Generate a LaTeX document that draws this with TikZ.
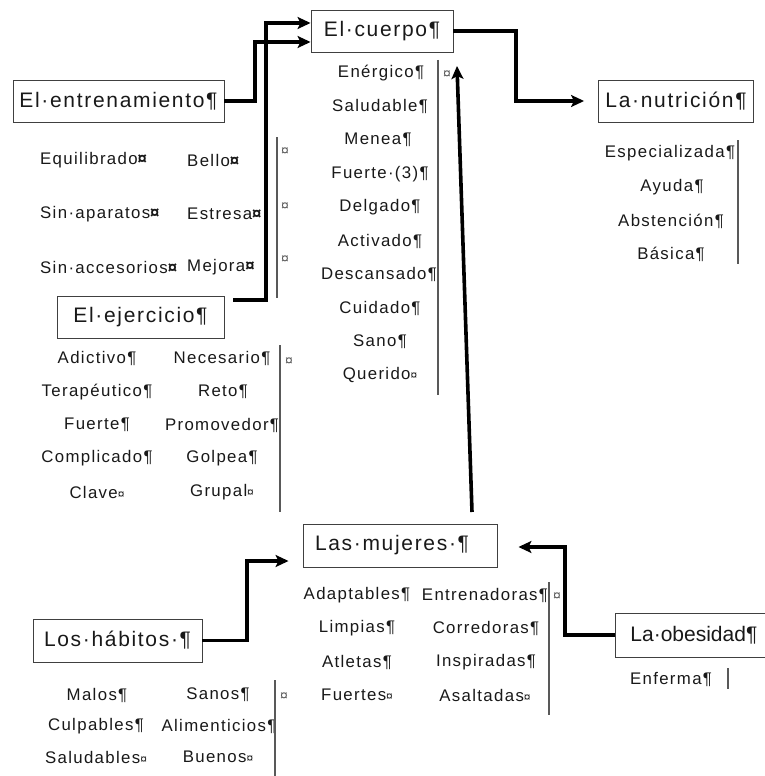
\documentclass[tikz,border=0pt]{standalone}
\usepackage{fontspec}
\setmainfont{Liberation Sans}
\newfontfamily\lsans[LetterSpace=8]{Liberation Sans}
\usetikzlibrary{arrows.meta}
\newcommand\cellmk{{\fontsize{12}{12}\selectfont ¤}}
\newcommand\bcellmk{{\bfseries ¤}}
\begin{document}
\begin{tikzpicture}[x=1pt,y=-1pt,
  box/.style={draw=black!75, line width=0.9pt, minimum height=42pt, inner sep=0pt, font=\lsans\fontsize{21}{24}\selectfont, text=black!90},
  word/.style={inner sep=0pt, font=\lsans\fontsize{16.8}{20}\selectfont, text=black!90},
  conn/.style={line width=3.6pt, -{Stealth[length=13pt,width=12pt,inset=3pt]}},
  rulev/.style={draw=black!65, line width=1.2pt},
  cellsign/.style={inner sep=0pt, font=\fontsize{14}{14}\selectfont, text=black!65}
]
\clip (0,0) rectangle (765,776);
\fill[white] (0,0) rectangle (765,776);

% boxes
\node[box, minimum width=142pt] (cuerpo) at (382,31) {El·cuerpo¶};
\node[box, minimum width=211pt] (ent) at (118.5,101) {El·entrenamiento¶};
\node[box, minimum width=155pt] (nut) at (676,101) {La·nutrición¶};
\node[box, minimum width=167pt] (ejer) at (140.5,317) {El·ejercicio¶};
\node[box, minimum width=194pt, minimum height=43pt, text width=180pt, align=left] (muj) at (400,545.5) {\hspace*{5pt}Las·mujeres·¶};
\node[box, minimum width=169pt, minimum height=43pt] (hab) at (117.5,640.5) {Los·hábitos·¶};
\node[box, minimum height=44pt, anchor=west, inner xsep=15pt, font=\fontsize{21}{24}\selectfont] (obe) at (615,635) {La·obesidad¶};

% El cuerpo column
\node[word] (c1) at (381,73) {Enérgico¶};
\node[word] (c2) at (380,106.5) {Saludable¶};
\node[word] (c3) at (378,140) {Menea¶};
\node[word] (c4) at (380,174) {Fuerte·(3)¶};
\node[word] (c5) at (380,207.5) {Delgado¶};
\node[word] (c6) at (380,241) {Activado¶};
\node[word] (c7) at (379,274.5) {Descansado¶};
\node[word] (c8) at (380,308) {Cuidado¶};
\node[word] (c9) at (380,341.5) {Sano¶};
\node[word] (c10) at (380,375) {Querido\cellmk};
\draw[rulev] (438,60) -- (438,395);
\node[cellsign] (cm1) at (447,75) {¤};

% El entrenamiento table
\node[word, anchor=west] (e1) at (40,160) {Equilibrado\bcellmk};
\node[word, anchor=west] (e2) at (40,214) {Sin·aparatos\bcellmk};
\node[word, anchor=west] (e3) at (40,267) {Sin·accesorios\bcellmk};
\node[word, anchor=west] (e4) at (187,160) {Bello\bcellmk};
\node[word, anchor=west] (e5) at (187,214) {Estresa\bcellmk};
\node[word, anchor=west] (e6) at (187,267) {Mejora\bcellmk};
\draw[rulev] (277,137) -- (277,298);
\node[cellsign] (em1) at (285,152) {¤};
\node[cellsign] (em2) at (285,207) {¤};
\node[cellsign] (em3) at (285,260) {¤};

% El ejercicio table
\node[word] (j1) at (97,358) {Adictivo¶};
\node[word] (j2) at (97,392) {Terapéutico¶};
\node[word] (j3) at (97,425) {Fuerte¶};
\node[word] (j4) at (97,458) {Complicado¶};
\node[word] (j5) at (97,492) {Clave\cellmk};
\node[word] (j6) at (222,358) {Necesario¶};
\node[word] (j7) at (223,392) {Reto¶};
\node[word] (j8) at (222,425) {Promovedor¶};
\node[word] (j9) at (222,458) {Golpea¶};
\node[word] (j10) at (222,492) {Grupal\cellmk};
\draw[rulev] (280,345) -- (280,512);
\node[cellsign] (jm1) at (289,362) {¤};

% La nutricion column
\node[word] (n1) at (670,153) {Especializada¶};
\node[word] (n2) at (672,187) {Ayuda¶};
\node[word] (n3) at (671,221) {Abstención¶};
\node[word] (n4) at (671,254) {Básica¶};
\draw[rulev] (738,140) -- (738,264);

% Las mujeres table
\node[word] (m1) at (357,595) {Adaptables¶};
\node[word] (m2) at (357,628) {Limpias¶};
\node[word] (m3) at (357,662) {Atletas¶};
\node[word] (m4) at (357,695) {Fuertes\cellmk};
\node[word] (m5) at (485,595) {Entrenadoras¶};
\node[word] (m6) at (486,628) {Corredoras¶};
\node[word] (m7) at (486,662) {Inspiradas¶};
\node[word] (m8) at (485,695) {Asaltadas\cellmk};
\draw[rulev] (549,582) -- (549,715);
\node[cellsign] (mm1) at (557,597) {¤};

% Los habitos table
\node[word] (h1) at (97,695) {Malos¶};
\node[word] (h2) at (96,726) {Culpables¶};
\node[word] (h3) at (96,757) {Saludables\cellmk};
\node[word] (h4) at (218,695) {Sanos¶};
\node[word] (h5) at (219,726) {Alimenticios¶};
\node[word] (h6) at (218,757) {Buenos\cellmk};
\draw[rulev] (275,680) -- (275,776);
\node[cellsign] (hm1) at (284,697) {¤};

% La obesidad
\node[word] (o1) at (671,679) {Enferma¶};
\draw[rulev] (728,668) -- (728,689);

% connectors
\coordinate (ejs) at (233,300);
\coordinate (mjs) at (472,512);
\coordinate (cpt) at (457,66);
\draw[conn] (ent.east) -- (255,101) |- ([yshift=-11pt]cuerpo.west);
\draw[conn] (ejs) -- (266,300) |- ([yshift=8pt]cuerpo.west);
\draw[conn] (cuerpo.east) -- (516,31) |- ([xshift=-14pt]nut.west);
\draw[conn] (mjs) -- (cpt);
\draw[conn] (hab.east) -- (247,640.5) |- ([xshift=-14pt,yshift=-15.5pt]muj.west);
\draw[conn] (obe.west) -- (565,635) |- ([xshift=21pt,yshift=-1.5pt]muj.east);
\end{tikzpicture}
\end{document}
